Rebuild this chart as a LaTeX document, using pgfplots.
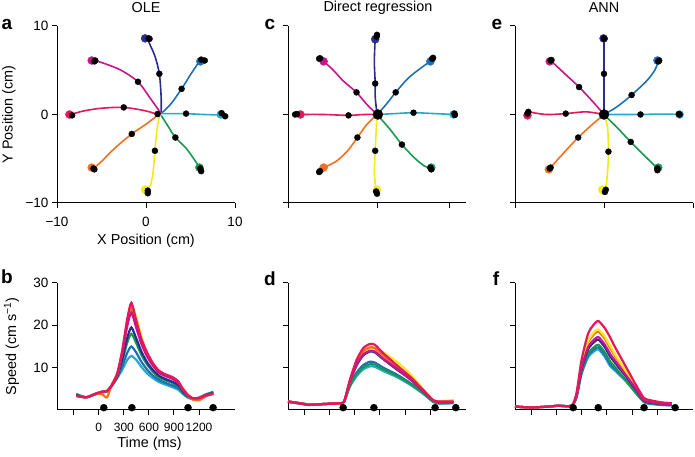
\documentclass[border=0pt]{standalone}
\usepackage{pgfplots}
\pgfplotsset{compat=1.18}
\usepackage{fontspec}
\setmainfont{Liberation Sans}
\definecolor{cNavy}{HTML}{2B2D8E}
\definecolor{cBlue}{HTML}{1D6FB8}
\definecolor{cCyan}{HTML}{25A9CC}
\definecolor{cGreen}{HTML}{1A9850}
\definecolor{cYellow}{HTML}{F5E81C}
\definecolor{cOrange}{HTML}{F07022}
\definecolor{cRed}{HTML}{E4175B}
\definecolor{cMag}{HTML}{C2188B}
\pgfplotsset{
 base/.style={scale only axis, axis lines=left, axis line style={-, line width=1pt},
   tick align=outside, major tick length=5pt, tick style={black, line width=1pt},
   clip=false, tick label style={font=\fontsize{13.5}{15}\selectfont},
   xticklabel style={yshift=-6pt},
   label style={font=\fontsize{14.4}{17}\selectfont},
   /pgf/number format/assume math mode=true},
 toppanel/.style={base, width=178pt, height=177pt, xmin=-10, xmax=10, ymin=-10, ymax=10,
   ytick={-10,0,10}, xtick={-10,0,10}},
 botpanel/.style={base, width=178pt, height=127pt, xmin=-500, xmax=1630, ymin=0, ymax=30,
   ytick={10,20,30}, xtick={-300,0,300,600,900,1200}},
 tr/.style={line width=1.6pt, smooth, tension=0.5, no marks, color=#1},
 sp/.style={line width=2.2pt, smooth, tension=0.4, no marks, color=#1},
 bd/.style={only marks, mark=*, mark size=3pt, black},
 tg/.style={only marks, mark=*, mark size=4pt, color=#1},
}
\begin{document}
\begin{tikzpicture}
\useasboundingbox (0pt,0pt) rectangle (695pt,457pt);
% ---------------- a: OLE
\begin{axis}[toppanel, at={(57pt,254pt)}, anchor=south west,
  xlabel={X Position (cm)}, ylabel={Y Position (cm)},
  xticklabels={−10,0,10}, yticklabels={−10,0,10},
  xlabel style={at={(axis description cs:0.5,-0.215)}, anchor=center},
  ylabel style={at={(axis description cs:-0.27,0.5)}, anchor=center}]
\addplot[tr=cNavy] coordinates {(1.7,0.2) (1.7,2.0) (1.5,4.6) (1.0,6.6) (0.4,8.0) (0.2,8.6)};
\addplot[tr=cBlue] coordinates {(1.8,0.2) (2.8,1.2) (4.0,2.9) (5.0,4.5) (5.8,5.7) (6.2,6.1)};
\addplot[tr=cCyan] coordinates {(1.7,0.1) (3.0,0.1) (4.5,0.1) (6.5,0.0) (8.5,-0.05)};
\addplot[tr=cGreen] coordinates {(1.7,-0.1) (2.4,-1.2) (3.3,-2.6) (4.5,-3.8) (5.5,-5.2) (6.1,-6.1)};
\addplot[tr=cYellow] coordinates {(1.5,-0.1) (1.2,-2.0) (1.0,-4.1) (0.8,-6.5) (0.5,-8.0) (0.0,-8.5)};
\addplot[tr=cOrange] coordinates {(1.3,-0.1) (0.0,-1.1) (-1.6,-2.2) (-3.5,-3.8) (-5.0,-5.3) (-5.9,-6.1)};
\addplot[tr=cRed] coordinates {(1.3,0.0) (0.0,0.4) (-2.5,0.8) (-5.1,0.7) (-7.0,0.4) (-8.3,0.05)};
\addplot[tr=cMag] coordinates {(1.7,0.1) (0.5,1.8) (-0.9,3.7) (-2.8,5.0) (-4.5,5.7) (-5.7,6.1)};
\addplot[tg=cNavy] coordinates {(-0.1,8.6)};
\addplot[tg=cBlue] coordinates {(6.1,6.0)};
\addplot[tg=cCyan] coordinates {(8.4,0)};
\addplot[tg=cGreen] coordinates {(6.0,-6.0)};
\addplot[tg=cYellow] coordinates {(-0.1,-8.5)};
\addplot[tg=cOrange] coordinates {(-6.1,-6.0)};
\addplot[tg=cRed] coordinates {(-8.6,0)};
\addplot[tg=cMag] coordinates {(-6.1,6.1)};
\addplot[bd] coordinates {(1.5,4.6) (0.3,8.6) (0.4,8.55) (4.0,2.9) (6.2,6.2) (6.6,6.1)
 (4.5,0.1) (8.5,0.15) (8.9,-0.2) (3.3,-2.6) (6.1,-6.1) (6.2,-6.4) (1.0,-4.1) (0.2,-8.6) (0.2,-8.9)
 (-1.6,-2.2) (-5.9,-6.1) (-5.8,-6.2) (-2.5,0.8) (-8.3,-0.1) (1.3,0.05) (-0.9,3.7) (-5.7,6.1) (-5.8,6.0)};
\end{axis}
% ---------------- c: Direct regression
\begin{axis}[toppanel, at={(288pt,254pt)}, anchor=south west,
  xtick={-10,0,8.2}, xticklabels={,,}, yticklabels={,,}]
\addplot[tr=cNavy] coordinates {(0,0) (-0.2,2.0) (-0.2,3.5) (-0.3,6.0) (-0.2,8.6)};
\addplot[tr=cBlue] coordinates {(0,0) (1.0,1.1) (2.1,2.5) (3.5,4.1) (5.0,5.3) (6.0,6.0)};
\addplot[tr=cCyan] coordinates {(0,0) (2.0,0.1) (4.1,0.2) (6.5,0.1) (8.6,0)};
\addplot[tr=cGreen] coordinates {(0,0) (1.4,-1.6) (2.8,-3.4) (4.2,-4.9) (5.3,-5.8) (6.0,-6.1)};
\addplot[tr=cYellow] coordinates {(0,0) (-0.1,-2.0) (-0.2,-4.1) (-0.3,-6.5) (-0.1,-8.7)};
\addplot[tr=cOrange] coordinates {(0,0) (-1.2,-1.2) (-2.2,-2.6) (-3.3,-4.1) (-4.6,-5.3) (-6.0,-6.0)};
\addplot[tr=cRed] coordinates {(0,0) (-1.5,0.0) (-3.2,-0.1) (-6.0,0.0) (-8.6,0.0)};
\addplot[tr=cMag] coordinates {(0,0) (-1.2,1.2) (-2.3,2.5) (-3.8,3.8) (-5.0,5.1) (-6.0,6.0)};
\addplot[tg=cNavy] coordinates {(-0.2,8.5)};
\addplot[tg=cBlue] coordinates {(6.0,6.0)};
\addplot[tg=cCyan] coordinates {(8.6,0)};
\addplot[tg=cGreen] coordinates {(6.1,-6.0)};
\addplot[tg=cYellow] coordinates {(0.0,-8.5)};
\addplot[tg=cOrange] coordinates {(-6.0,-6.0)};
\addplot[tg=cRed] coordinates {(-8.6,0)};
\addplot[tg=cMag] coordinates {(-6.0,6.0)};
\addplot[bd] coordinates {(-0.2,3.5) (0,9.0) (-0.05,8.8) (2.1,2.5) (6.3,6.4) (6.2,6.3)
 (4.1,0.2) (8.7,0.1) (8.75,-0.05) (2.8,-3.4) (6.0,-6.0) (6.1,-6.2) (-0.2,-4.1) (-0.1,-8.7) (0.0,-8.95)
 (-2.2,-2.6) (-6.5,-6.5) (-6.4,-6.4) (-3.2,-0.1) (-9.2,0.0) (-9.0,0.05) (-2.3,2.5) (-6.5,6.3) (-6.4,6.35)};
\addplot[only marks, mark=*, mark size=5pt, black] coordinates {(0.1,0)};
\end{axis}
% ---------------- e: ANN
\begin{axis}[toppanel, at={(515pt,254pt)}, anchor=south west,
  xticklabels={,,}, yticklabels={,,}]
\addplot[tr=cNavy] coordinates {(0,0) (0,2.0) (0,4.6) (0,6.8) (0,8.6)};
\addplot[tr=cBlue] coordinates {(0,0) (1.5,0.9) (3.1,2.2) (4.8,3.8) (5.7,5.0) (6.1,6.0)};
\addplot[tr=cCyan] coordinates {(0,0) (2.0,0) (4.1,0) (6.5,0.05) (8.5,0)};
\addplot[tr=cGreen] coordinates {(0,0) (1.5,-1.5) (3.0,-3.1) (4.5,-4.6) (6.0,-6.1)};
\addplot[tr=cYellow] coordinates {(0,0) (0.4,-1.5) (0.5,-4.2) (0.4,-6.5) (0.2,-8.4)};
\addplot[tr=cOrange] coordinates {(0,0) (-1.4,-1.2) (-2.9,-2.6) (-4.4,-4.2) (-6.1,-6.1)};
\addplot[tr=cRed] coordinates {(0,0) (-2.0,0.3) (-4.3,0.1) (-6.5,0.0) (-8.5,0.3)};
\addplot[tr=cMag] coordinates {(0,0) (-1.3,1.5) (-2.8,3.1) (-4.4,4.6) (-6.0,6.1)};
\addplot[tg=cNavy] coordinates {(-0.05,8.6)};
\addplot[tg=cBlue] coordinates {(6.0,6.1)};
\addplot[tg=cCyan] coordinates {(8.5,0)};
\addplot[tg=cGreen] coordinates {(6.1,-6.0)};
\addplot[tg=cYellow] coordinates {(-0.2,-8.5)};
\addplot[tg=cOrange] coordinates {(-6.2,-6.2)};
\addplot[tg=cRed] coordinates {(-8.6,-0.1)};
\addplot[tg=cMag] coordinates {(-6.1,6.0)};
\addplot[bd] coordinates {(0,4.6) (0,8.6) (0.05,8.55) (3.1,2.2) (6.1,6.0) (6.2,6.1)
 (4.1,0) (8.5,0) (8.4,0.05) (3.0,-3.1) (6.0,-6.1) (6.0,-6.3) (0.5,-4.2) (0.1,-8.75) (0.2,-8.5)
 (-2.9,-2.6) (-6.1,-6.1) (-6.0,-6.0) (-4.3,0.1) (-8.5,0.3) (-8.6,0.1) (-2.8,3.1) (-6.0,6.1) (-5.9,6.15)};
\addplot[only marks, mark=*, mark size=5pt, black] coordinates {(0,0)};
\end{axis}
% ---------------- b
\begin{axis}[botpanel, at={(57pt,47pt)}, anchor=south west,
  xlabel={Time (ms)}, ylabel={Speed (cm s\textsuperscript{−1})},
  xticklabels={,0,300,600,900,1200},
  xticklabel style={font=\fontsize{12}{14}\selectfont, yshift=1pt},
  xlabel style={at={(axis description cs:0.52,-0.265)}, anchor=center},
  ylabel style={at={(axis description cs:-0.255,0.5)}, anchor=center}]
\addplot[sp=cCyan] coordinates {(-270,3.8) (-150,3.0) (-30,3.8) (50,4.2) (100,4.4) (160,5.8) (220,7.5) (280,9.5) (340,11.8) (390,12.8) (450,11.8) (510,10.2) (580,8.6) (650,7.5) (720,6.6) (800,6.0) (880,5.4) (950,4.8) (1000,3.9) (1060,3.0) (1120,2.6) (1200,2.9) (1280,3.7) (1370,4.3)};
\addplot[sp=cBlue] coordinates {(-270,3.7) (-150,3.0) (-30,3.8) (50,4.2) (100,4.4) (160,5.8) (220,7.7) (280,10.3) (340,13.5) (390,15.0) (450,13.5) (510,11.4) (580,9.5) (650,8.1) (720,7.1) (800,6.4) (880,5.8) (950,5.2) (1000,4.1) (1060,3.1) (1120,2.6) (1200,2.9) (1280,3.6) (1370,4.2)};
\addplot[sp=cGreen] coordinates {(-270,3.6) (-150,3.0) (-30,3.8) (50,4.3) (100,4.4) (160,5.9) (220,7.9) (280,11.4) (340,15.9) (390,18.0) (450,15.7) (510,13.0) (580,10.7) (650,9.0) (720,7.7) (800,7.0) (880,6.4) (950,5.6) (1000,4.4) (1060,3.3) (1120,2.7) (1200,2.9) (1280,3.6) (1370,4.1)};
\addplot[sp=cNavy] coordinates {(-270,3.5) (-150,3.0) (-30,3.9) (50,4.3) (100,4.5) (160,5.9) (220,8.0) (280,11.9) (340,17.0) (390,19.5) (450,16.8) (510,13.8) (580,11.2) (650,9.4) (720,8.1) (800,7.3) (880,6.7) (950,5.9) (1000,4.6) (1060,3.4) (1120,2.7) (1200,2.8) (1280,3.5) (1370,4.0)};
\addplot[sp=cYellow] coordinates {(-270,3.3) (-150,3.0) (-30,3.9) (50,4.4) (100,4.5) (160,6.0) (220,8.4) (280,13.7) (340,20.9) (390,24.6) (450,21.8) (510,17.3) (580,13.2) (650,10.8) (720,9.1) (800,8.3) (880,7.7) (950,6.7) (1000,5.1) (1060,3.7) (1120,2.8) (1200,2.8) (1280,3.4) (1370,3.8)};
\addplot[sp=cOrange] coordinates {(-270,3.35) (-150,3.0) (-30,3.9) (50,3.6) (100,3.0) (160,6.2) (220,8.7) (280,13.6) (340,20.5) (390,24.0) (450,20.1) (510,16.1) (580,13.0) (650,10.7) (720,9.0) (800,8.2) (880,7.6) (950,6.6) (1000,5.1) (1060,3.6) (1120,2.5) (1200,2.3) (1280,3.2) (1370,3.9)};
\addplot[sp=cMag] coordinates {(-270,3.4) (-150,3.0) (-30,3.9) (50,4.4) (100,4.5) (160,6.0) (220,8.3) (280,13.2) (340,19.8) (390,23.0) (450,19.3) (510,15.6) (580,12.6) (650,10.4) (720,8.8) (800,8.0) (880,7.4) (950,6.4) (1000,5.0) (1060,3.6) (1120,2.8) (1200,2.8) (1280,3.5) (1370,3.9)};
\addplot[sp=cRed] coordinates {(-270,3.3) (-150,3.0) (-30,3.9) (50,4.4) (100,4.5) (160,6.0) (220,8.5) (280,14.0) (340,21.5) (390,25.3) (450,21.0) (510,16.8) (580,13.5) (650,11.0) (720,9.3) (800,8.4) (880,7.8) (950,6.8) (1000,5.2) (1060,3.7) (1120,2.8) (1200,2.8) (1280,3.4) (1370,3.8)};
\addplot[only marks, mark=*, mark size=3.5pt, black] coordinates {(60,0.55) (396,0.55) (1068,0.55) (1368,0.55)};
\end{axis}
% ---------------- d
\begin{axis}[botpanel, at={(288pt,47pt)}, anchor=south west,
  xticklabels={,,,,,}, yticklabels={,,}]
\addplot[sp=cCyan] coordinates {(-500,2.0) (-360,1.6) (-240,1.3) (-80,1.4) (120,1.6) (172,2.0) (240,5.5) (320,8.0) (400,9.6) (480,10.3) (540,10.2) (640,9.2) (800,7.8) (960,6.0) (1120,3.8) (1240,1.9) (1320,1.5) (1480,1.6)};
\addplot[sp=cBlue] coordinates {(-500,2.0) (-360,1.6) (-240,1.3) (-80,1.4) (120,1.6) (172,2.0) (240,5.8) (320,8.8) (400,10.6) (480,11.4) (540,11.2) (640,10.0) (800,8.4) (960,6.4) (1120,4.0) (1240,2.0) (1320,1.6) (1480,1.7)};
\addplot[sp=cGreen] coordinates {(-500,2.0) (-360,1.6) (-240,1.3) (-80,1.4) (120,1.6) (172,2.0) (240,5.7) (320,8.4) (400,10.1) (480,10.8) (540,10.7) (640,9.6) (800,8.1) (960,6.2) (1120,3.9) (1240,1.9) (1320,1.6) (1480,2.3)};
\addplot[sp=cNavy] coordinates {(-500,1.9) (-360,1.5) (-240,1.2) (-80,1.4) (120,1.6) (172,2.0) (240,6.6) (320,10.5) (400,12.9) (480,13.8) (540,13.6) (640,12.0) (800,9.6) (960,7.3) (1120,4.4) (1240,2.2) (1320,1.8) (1480,1.9)};
\addplot[sp=cYellow] coordinates {(-500,2.0) (-360,1.6) (-240,1.2) (-80,1.4) (120,1.6) (172,2.0) (240,6.8) (320,11.0) (400,13.6) (480,14.5) (540,14.6) (640,13.6) (800,11.4) (960,8.6) (1120,4.8) (1240,2.3) (1320,2.0) (1480,2.4)};
\addplot[sp=cOrange] coordinates {(-500,2.0) (-360,1.6) (-240,1.2) (-80,1.4) (120,1.6) (172,2.0) (240,6.9) (320,11.2) (400,13.9) (480,14.8) (540,14.6) (640,12.8) (800,10.2) (960,7.6) (1120,4.6) (1240,2.2) (1320,1.9) (1480,1.9)};
\addplot[sp=cMag] coordinates {(-500,2.0) (-360,1.6) (-240,1.2) (-80,1.4) (120,1.6) (172,2.0) (240,6.6) (320,10.7) (400,13.1) (480,14.0) (540,13.8) (640,12.1) (800,9.8) (960,7.3) (1120,4.4) (1240,2.2) (1320,1.9) (1480,1.9)};
\addplot[sp=cRed] coordinates {(-500,2.0) (-360,1.6) (-240,1.2) (-80,1.4) (120,1.6) (172,2.0) (240,7.1) (320,11.8) (400,14.6) (480,15.6) (540,15.4) (640,13.4) (800,10.6) (960,7.9) (1120,4.7) (1240,2.3) (1320,2.0) (1480,2.0)};
\addplot[only marks, mark=*, mark size=3.5pt, black] coordinates {(160,0.55) (528,0.55) (1260,0.55) (1508,0.55)};
\end{axis}
% ---------------- f
\begin{axis}[botpanel, at={(515pt,47pt)}, anchor=south west,
  xticklabels={,,,,,}, yticklabels={,,}]
\addplot[sp=cCyan] coordinates {(-500,0.8) (-304,0.6) (-104,0.8) (16,1.0) (176,1.0) (236,3.0) (296,8.5) (376,12.5) (456,14.0) (500,14.3) (576,12.5) (640,10.3) (696,9.3) (816,7.0) (936,4.5) (1036,2.0) (1096,1.5) (1256,1.2) (1376,1.1)};
\addplot[sp=cBlue] coordinates {(-500,0.8) (-304,0.6) (-104,0.8) (16,1.0) (176,1.0) (236,3.1) (296,8.7) (376,12.9) (456,14.5) (500,14.8) (576,13.0) (640,10.8) (696,9.7) (816,7.3) (936,4.6) (1036,2.1) (1096,1.6) (1256,1.2) (1376,1.1)};
\addplot[sp=cGreen] coordinates {(-500,0.8) (-304,0.6) (-104,0.8) (16,1.0) (176,1.0) (236,3.2) (296,9.0) (376,13.4) (456,15.0) (500,15.4) (576,13.6) (640,11.4) (696,10.2) (816,7.2) (936,4.2) (1036,2.0) (1096,1.6) (1256,1.3) (1376,1.2)};
\addplot[sp=cNavy] coordinates {(-500,0.8) (-304,0.6) (-104,0.8) (16,1.0) (176,1.0) (236,3.3) (296,9.6) (376,14.4) (456,16.2) (500,16.6) (576,14.8) (640,12.6) (696,11.2) (816,8.2) (936,5.1) (1036,2.3) (1096,1.8) (1256,1.4) (1376,1.3)};
\addplot[sp=cOrange] coordinates {(-500,0.8) (-304,0.6) (-104,0.8) (16,1.0) (176,1.0) (236,3.6) (296,10.6) (376,16.0) (456,18.1) (500,18.5) (576,16.8) (640,14.6) (696,12.8) (816,9.3) (936,5.6) (1036,2.6) (1096,2.1) (1256,1.6) (1376,1.4)};
\addplot[sp=cYellow] coordinates {(-500,0.8) (-304,0.6) (-104,0.8) (16,1.0) (176,1.0) (236,3.7) (296,10.8) (376,16.4) (456,18.6) (500,19.0) (576,17.3) (640,15.1) (696,13.2) (816,9.5) (936,5.8) (1036,2.7) (1096,2.1) (1256,1.6) (1376,1.5)};
\addplot[sp=cMag] coordinates {(-500,0.8) (-304,0.6) (-104,0.8) (16,1.0) (176,1.0) (236,3.4) (296,9.9) (376,14.9) (456,16.8) (500,17.2) (576,15.4) (640,13.2) (696,11.7) (816,8.5) (936,5.3) (1036,2.4) (1096,1.9) (1256,1.5) (1376,1.3)};
\addplot[sp=cRed] coordinates {(-500,0.8) (-304,0.6) (-104,0.8) (16,1.0) (176,1.0) (236,4.0) (296,11.8) (376,18.1) (456,20.5) (500,21.0) (576,19.3) (640,17.1) (696,14.9) (816,10.6) (936,6.3) (1036,3.0) (1096,2.4) (1256,1.8) (1376,1.6)};
\addplot[only marks, mark=*, mark size=3.5pt, black] coordinates {(196,0.55) (496,0.55) (1044,0.55) (1416,0.55)};
\end{axis}
% titles
\node[font=\fontsize{14.4}{17}\selectfont] at (146pt,449pt) {OLE};
\node[font=\fontsize{14.4}{17}\selectfont] at (378pt,449pt) {Direct regression};
\node[font=\fontsize{14.4}{17}\selectfont] at (604pt,449pt) {ANN};
% panel letters
\node[font=\fontsize{19}{22}\selectfont\bfseries] at (7pt,433pt) {a};
\node[font=\fontsize{19}{22}\selectfont\bfseries] at (7pt,180pt) {b};
\node[font=\fontsize{19}{22}\selectfont\bfseries] at (270pt,433pt) {c};
\node[font=\fontsize{19}{22}\selectfont\bfseries] at (270pt,178pt) {d};
\node[font=\fontsize{19}{22}\selectfont\bfseries] at (497pt,433pt) {e};
\node[font=\fontsize{19}{22}\selectfont\bfseries] at (496pt,178pt) {f};
\end{tikzpicture}
\end{document}
